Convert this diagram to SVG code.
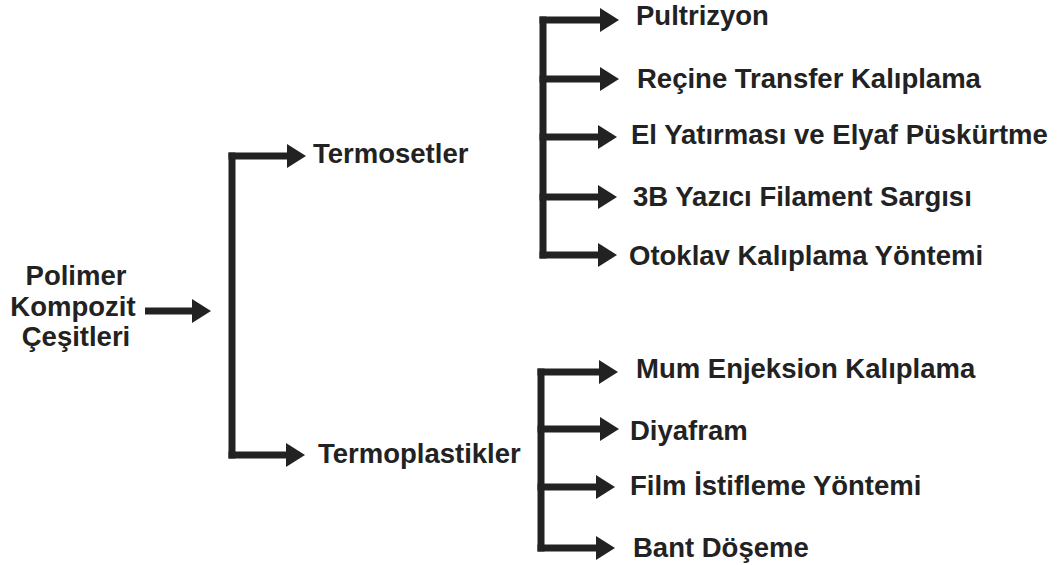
<svg xmlns="http://www.w3.org/2000/svg" width="1059" height="565" viewBox="0 0 1059 565">
<style>
.t{font-family:"Liberation Sans",Arial,sans-serif;font-weight:bold;font-size:27.5px;fill:#222}
.c{stroke:#222;stroke-width:7;fill:none}
.a{marker-end:url(#ah)}
</style>
<defs>
<marker id="ah" markerUnits="userSpaceOnUse" markerWidth="20" markerHeight="24" refX="0" refY="12" orient="auto" viewBox="0 0 20 24">
<path d="M0,0 L19,12 L0,24 Z" fill="#222"/>
</marker>
</defs>
<rect width="1059" height="565" fill="#fff"/>
<g id="connectors">
<line class="c a" x1="145" y1="311" x2="192" y2="311"/>
<line class="c" x1="232" y1="152.5" x2="232" y2="458.5"/>
<line class="c a" x1="228.5" y1="156" x2="287" y2="156"/>
<line class="c a" x1="228.5" y1="455" x2="286" y2="455"/>
<line class="c" x1="543" y1="16.5" x2="543" y2="258.5"/>
<line class="c a" x1="539.5" y1="20" x2="600" y2="20"/>
<line class="c a" x1="539.5" y1="79" x2="600" y2="79"/>
<line class="c a" x1="539.5" y1="137" x2="598" y2="137"/>
<line class="c a" x1="539.5" y1="197" x2="598" y2="197"/>
<line class="c a" x1="539.5" y1="255" x2="598" y2="255"/>
<line class="c" x1="541" y1="368.5" x2="541" y2="551.5"/>
<line class="c a" x1="537.5" y1="372" x2="599" y2="372"/>
<line class="c a" x1="537.5" y1="429" x2="600" y2="429"/>
<line class="c a" x1="537.5" y1="487" x2="596" y2="487"/>
<line class="c a" x1="537.5" y1="548" x2="596" y2="548"/>
</g>
<g id="root"><text class="t" text-anchor="middle"><tspan x="76" y="285">Polimer</tspan><tspan x="73" y="316">Kompozit</tspan><tspan x="76" y="346">Çeşitleri</tspan></text></g>
<g id="termosetler"><text class="t" x="313" y="163">Termosetler</text></g>
<g id="termoplastikler"><text class="t" x="318" y="463">Termoplastikler</text></g>
<g id="n1"><text class="t" x="636" y="25">Pultrizyon</text></g>
<g id="n2"><text class="t" x="637" y="88">Reçine Transfer Kalıplama</text></g>
<g id="n3"><text class="t" x="631" y="144">El Yatırması ve Elyaf Püskürtme</text></g>
<g id="n4"><text class="t" x="633" y="206">3B Yazıcı Filament Sargısı</text></g>
<g id="n5"><text class="t" x="629" y="265">Otoklav Kalıplama Yöntemi</text></g>
<g id="n6"><text class="t" x="636" y="378">Mum Enjeksion Kalıplama</text></g>
<g id="n7"><text class="t" x="630" y="440">Diyafram</text></g>
<g id="n8"><text class="t" x="630" y="495">Film İstifleme Yöntemi</text></g>
<g id="n9"><text class="t" x="633" y="557">Bant Döşeme</text></g>
</svg>
